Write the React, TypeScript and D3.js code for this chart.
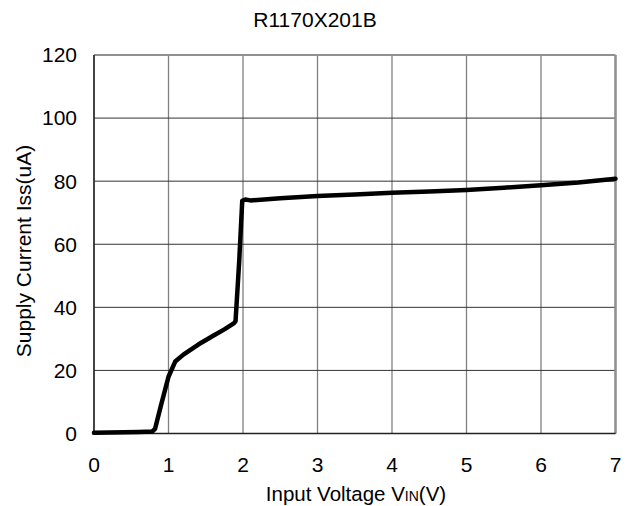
import React from "react";
import * as d3 from "d3";

const xTicks = [0, 1, 2, 3, 4, 5, 6, 7];
const yTicks = [0, 20, 40, 60, 80, 100, 120];
const vin = [0, 0.2, 0.4, 0.6, 0.78, 0.82, 0.9, 1.0, 1.09, 1.2, 1.4, 1.6, 1.75, 1.88, 1.9, 1.95, 1.99, 2.03, 2.1, 2.5, 3, 3.5, 4, 4.5, 5, 5.5, 6, 6.5, 7];
const iss = [0.2, 0.3, 0.4, 0.5, 0.6, 1.5, 9, 18, 22.8, 25, 28.2, 31, 33, 35, 35.6, 55, 73.8, 74.2, 73.9, 74.6, 75.3, 75.8, 76.3, 76.7, 77.2, 77.9, 78.7, 79.6, 80.8];

export default function App() {
  const W = 639, H = 506;
  const x = d3.scaleLinear().domain([0, 7]).range([94, 615.5]);
  const y = d3.scaleLinear().domain([0, 120]).range([433.5, 55]);
  const line = d3.line<number>().x((d, i) => x(vin[i])).y((d) => y(d));
  const font = "Liberation Sans, Arial, sans-serif";
  return (
    <svg width={W} height={H} style={{ position: "absolute", left: 0, top: 0, background: "#fff" }}>
      <rect x={0} y={0} width={W} height={H} fill="#fff" />
      {xTicks.map((t) => (
        <line key={"vx" + t} x1={x(t)} x2={x(t)} y1={y(120)} y2={y(0)} stroke="#808080" strokeWidth={1.3} />
      ))}
      {yTicks.map((t) => (
        <line key={"hy" + t} x1={x(0)} x2={x(7)} y1={y(t)} y2={y(t)} stroke={t === 120 ? "#909090" : "#333"} strokeWidth={t === 120 ? 2 : 1} />
      ))}
      <line x1={x(7)} x2={x(7)} y1={y(120)} y2={y(0)} stroke="#909090" strokeWidth={2.5} />
      <line x1={x(0)} x2={x(0)} y1={y(120)} y2={y(0)} stroke="#222" strokeWidth={1.5} />
      <line x1={x(0)} x2={x(7)} y1={y(0)} y2={y(0)} stroke="#222" strokeWidth={1.5} />
      <path d={line(iss) || ""} fill="none" stroke="#000" strokeWidth={4.5} strokeLinejoin="round" strokeLinecap="round" />
      {yTicks.map((t) => (
        <text key={"yl" + t} x={77} y={y(t)} dy="0.35em" textAnchor="end" fontFamily={font} fontSize={21} fill="#000">{t}</text>
      ))}
      {xTicks.map((t) => (
        <text key={"xl" + t} x={x(t)} y={471.5} textAnchor="middle" fontFamily={font} fontSize={21} fill="#000">{t}</text>
      ))}
      <text x={315} y={27} textAnchor="middle" fontFamily={font} fontSize={21} fill="#000">R1170X201B</text>
      <text x={356} y={501} textAnchor="middle" fontFamily={font} fontSize={20.5} fill="#000">
        Input Voltage V<tspan fontSize={14}>IN</tspan>(V)
      </text>
      <text transform={`translate(31,${251}) rotate(-90)`} textAnchor="middle" fontFamily={font} fontSize={21} fill="#000">Supply Current Iss(uA)</text>
    </svg>
  );
}
